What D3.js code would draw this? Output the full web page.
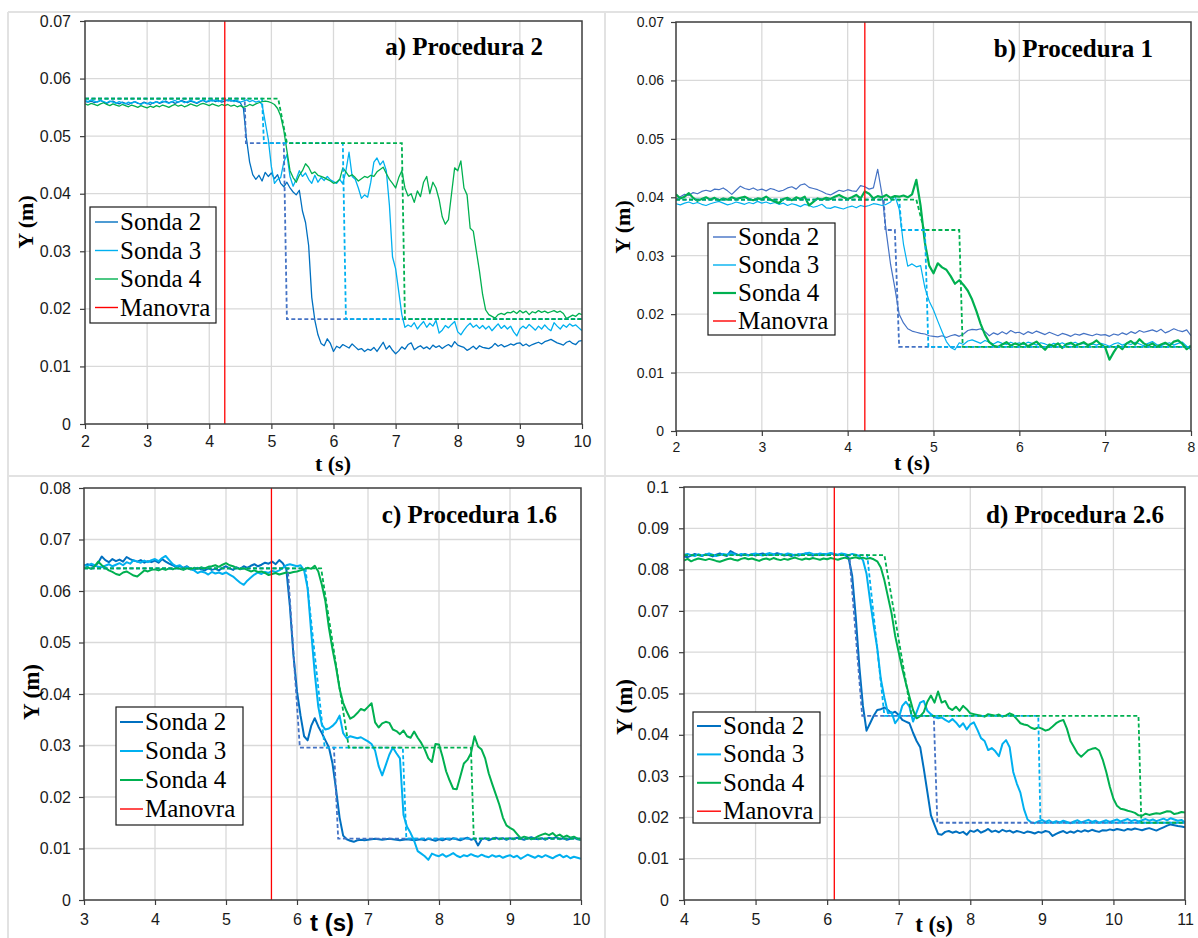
<!DOCTYPE html>
<html>
<head>
<meta charset="utf-8">
<script src="https://cdn.jsdelivr.net/npm/d3@7"></script>
<style>
  body { margin: 0; background: #fff; }
  svg { display: block; }
</style>
</head>
<body>
<svg id="fig" width="1198" height="938"></svg>
<script>
// ---------------- data ----------------
// Probe records are sampled every 0.05 s from each panel's start time.
const sampleStep = 0.05;
const seriesNames = ['Sonda 2', 'Sonda 3', 'Sonda 4', 'Manovra'];

// a) Procedura 2
const a_title = 'a) Procedura 2';
const a_start = 2;
const a_xTicks = [2, 3, 4, 5, 6, 7, 8, 9, 10];
const a_yTicks = [0, 0.01, 0.02, 0.03, 0.04, 0.05, 0.06, 0.07];
const a_manovra = 4.25;
const a_sonda2 = [
  0.0560,0.0559,0.0561,0.0558,0.0560,0.0562,0.0559,0.0557,0.0560,0.0561,
  0.0558,0.0556,0.0559,0.0557,0.0555,0.0558,0.0560,0.0557,0.0556,0.0559,
  0.0557,0.0555,0.0558,0.0560,0.0557,0.0559,0.0561,0.0558,0.0560,0.0557,
  0.0559,0.0562,0.0560,0.0558,0.0561,0.0559,0.0557,0.0560,0.0562,0.0559,
  0.0561,0.0563,0.0560,0.0562,0.0559,0.0561,0.0563,0.0561,0.0562,0.0560,
  0.0558,0.0548,0.0495,0.0455,0.0433,0.0425,0.0432,0.0422,0.0437,0.0430,
  0.0436,0.0426,0.0433,0.0418,0.0412,0.0420,0.0410,0.0403,0.0398,0.0406,
  0.0370,0.0350,0.0310,0.0220,0.0180,0.0155,0.0140,0.0136,0.0148,0.0140,
  0.0126,0.0135,0.0132,0.0138,0.0135,0.0132,0.0139,0.0134,0.0129,0.0131,
  0.0126,0.0130,0.0128,0.0133,0.0126,0.0134,0.0142,0.0130,0.0136,0.0128,
  0.0122,0.0127,0.0134,0.0130,0.0138,0.0141,0.0129,0.0133,0.0136,0.0131,
  0.0134,0.0130,0.0137,0.0133,0.0136,0.0131,0.0135,0.0138,0.0134,0.0143,
  0.0137,0.0135,0.0133,0.0128,0.0131,0.0135,0.0130,0.0136,0.0133,0.0132,
  0.0131,0.0134,0.0140,0.0135,0.0138,0.0134,0.0136,0.0139,0.0137,0.0140,
  0.0141,0.0136,0.0139,0.0135,0.0138,0.0140,0.0142,0.0139,0.0143,0.0145,
  0.0147,0.0144,0.0141,0.0139,0.0137,0.0142,0.0144,0.0140,0.0138,0.0144,
  0.0145];
const a_sonda3 = [
  0.0562,0.0560,0.0563,0.0561,0.0559,0.0562,0.0560,0.0558,0.0561,0.0559,
  0.0557,0.0560,0.0558,0.0556,0.0559,0.0557,0.0560,0.0558,0.0555,0.0558,
  0.0556,0.0559,0.0557,0.0560,0.0558,0.0561,0.0559,0.0557,0.0560,0.0562,
  0.0559,0.0561,0.0558,0.0560,0.0562,0.0560,0.0558,0.0561,0.0563,0.0560,
  0.0562,0.0561,0.0563,0.0560,0.0562,0.0564,0.0561,0.0563,0.0560,0.0562,
  0.0559,0.0561,0.0563,0.0560,0.0562,0.0559,0.0561,0.0555,0.0525,0.0495,
  0.0447,0.0418,0.0425,0.0428,0.0455,0.0468,0.0430,0.0413,0.0425,0.0440,
  0.0430,0.0436,0.0425,0.0418,0.0432,0.0420,0.0428,0.0423,0.0430,0.0424,
  0.0421,0.0418,0.0425,0.0417,0.0440,0.0472,0.0430,0.0425,0.0410,0.0392,
  0.0398,0.0394,0.0420,0.0455,0.0462,0.0450,0.0457,0.0440,0.0380,0.0290,
  0.0270,0.0230,0.0190,0.0168,0.0172,0.0169,0.0176,0.0165,0.0172,0.0178,
  0.0168,0.0175,0.0170,0.0180,0.0158,0.0163,0.0171,0.0167,0.0173,0.0178,
  0.0160,0.0155,0.0163,0.0170,0.0175,0.0168,0.0172,0.0166,0.0171,0.0165,
  0.0170,0.0162,0.0168,0.0174,0.0166,0.0171,0.0165,0.0170,0.0160,0.0153,
  0.0165,0.0170,0.0166,0.0173,0.0168,0.0163,0.0170,0.0165,0.0172,0.0166,
  0.0162,0.0176,0.0170,0.0165,0.0172,0.0168,0.0174,0.0170,0.0172,0.0167,
  0.0162];
const a_sonda4 = [
  0.0556,0.0554,0.0557,0.0555,0.0553,0.0556,0.0558,0.0555,0.0553,0.0556,
  0.0554,0.0552,0.0555,0.0553,0.0551,0.0554,0.0552,0.0550,0.0553,0.0551,
  0.0549,0.0552,0.0550,0.0553,0.0551,0.0554,0.0552,0.0550,0.0553,0.0555,
  0.0552,0.0554,0.0551,0.0553,0.0556,0.0554,0.0552,0.0555,0.0557,0.0555,
  0.0553,0.0556,0.0554,0.0552,0.0555,0.0553,0.0555,0.0552,0.0554,0.0551,
  0.0553,0.0550,0.0552,0.0555,0.0553,0.0556,0.0558,0.0560,0.0561,0.0560,
  0.0558,0.0555,0.0548,0.0535,0.0510,0.0475,0.0440,0.0428,0.0420,0.0432,
  0.0440,0.0452,0.0446,0.0435,0.0438,0.0432,0.0430,0.0428,0.0425,0.0422,
  0.0418,0.0420,0.0425,0.0445,0.0438,0.0430,0.0433,0.0428,0.0422,0.0426,
  0.0430,0.0428,0.0432,0.0430,0.0438,0.0442,0.0446,0.0435,0.0425,0.0418,
  0.0410,0.0428,0.0440,0.0410,0.0396,0.0400,0.0385,0.0405,0.0395,0.0420,
  0.0430,0.0400,0.0420,0.0410,0.0390,0.0360,0.0347,0.0355,0.0400,0.0445,
  0.0440,0.0457,0.0410,0.0398,0.0340,0.0335,0.0300,0.0265,0.0225,0.0198,
  0.0190,0.0187,0.0184,0.0190,0.0192,0.0190,0.0194,0.0193,0.0196,0.0192,
  0.0197,0.0193,0.0196,0.0190,0.0195,0.0193,0.0197,0.0194,0.0196,0.0193,
  0.0195,0.0197,0.0194,0.0196,0.0192,0.0183,0.0186,0.0189,0.0187,0.0192,
  0.0190];
// idealised step profiles [t, Y]
const a_step2 = [[2, 0.0565], [4.57, 0.0565], [4.59, 0.0488], [5.20, 0.0488], [5.25, 0.0182], [10, 0.0182]];
const a_step3 = [[2, 0.0565], [4.85, 0.0565], [4.88, 0.0488], [6.15, 0.0488], [6.20, 0.0182], [10, 0.0182]];
const a_step4 = [[2, 0.0565], [5.11, 0.0565], [5.25, 0.0488], [7.10, 0.0488], [7.15, 0.0182], [10, 0.0182]];

// b) Procedura 1
const b_title = 'b) Procedura 1';
const b_start = 2;
const b_xTicks = [2, 3, 4, 5, 6, 7, 8];
const b_yTicks = [0, 0.01, 0.02, 0.03, 0.04, 0.05, 0.06, 0.07];
const b_manovra = 4.2;
const b_sonda2 = [
  0.0396,0.0401,0.0405,0.0403,0.0408,0.0406,0.0410,0.0412,0.0410,0.0414,
  0.0413,0.0416,0.0411,0.0405,0.0412,0.0419,0.0415,0.0413,0.0416,0.0412,
  0.0414,0.0411,0.0415,0.0413,0.0410,0.0412,0.0416,0.0418,0.0414,0.0421,
  0.0423,0.0417,0.0415,0.0413,0.0410,0.0406,0.0404,0.0408,0.0412,0.0410,
  0.0413,0.0411,0.0410,0.0420,0.0418,0.0414,0.0416,0.0448,0.0405,0.0340,
  0.0285,0.0245,0.0200,0.0185,0.0175,0.0171,0.0169,0.0167,0.0166,0.0163,
  0.0162,0.0161,0.0163,0.0160,0.0163,0.0165,0.0162,0.0166,0.0172,0.0174,
  0.0173,0.0175,0.0170,0.0163,0.0168,0.0165,0.0170,0.0166,0.0172,0.0168,
  0.0169,0.0165,0.0170,0.0167,0.0171,0.0168,0.0165,0.0169,0.0166,0.0163,
  0.0167,0.0165,0.0162,0.0166,0.0164,0.0167,0.0165,0.0163,0.0166,0.0164,
  0.0165,0.0162,0.0166,0.0164,0.0168,0.0165,0.0170,0.0167,0.0172,0.0169,
  0.0171,0.0173,0.0170,0.0174,0.0168,0.0171,0.0175,0.0172,0.0170,0.0173,
  0.0163];
const b_sonda3 = [
  0.0389,0.0387,0.0390,0.0392,0.0389,0.0391,0.0388,0.0386,0.0389,0.0391,
  0.0393,0.0390,0.0387,0.0389,0.0392,0.0390,0.0388,0.0391,0.0389,0.0393,
  0.0390,0.0392,0.0389,0.0391,0.0388,0.0390,0.0386,0.0389,0.0387,0.0384,
  0.0388,0.0386,0.0383,0.0385,0.0388,0.0382,0.0381,0.0384,0.0382,0.0380,
  0.0383,0.0385,0.0382,0.0386,0.0384,0.0386,0.0389,0.0388,0.0386,0.0388,
  0.0392,0.0403,0.0380,0.0320,0.0282,0.0286,0.0281,0.0283,0.0245,0.0222,
  0.0207,0.0188,0.0170,0.0153,0.0143,0.0139,0.0151,0.0148,0.0154,0.0156,
  0.0153,0.0150,0.0155,0.0152,0.0149,0.0153,0.0150,0.0148,0.0152,0.0149,
  0.0151,0.0148,0.0152,0.0150,0.0147,0.0151,0.0149,0.0146,0.0150,0.0148,
  0.0151,0.0147,0.0149,0.0152,0.0148,0.0150,0.0146,0.0149,0.0147,0.0150,
  0.0148,0.0145,0.0149,0.0151,0.0147,0.0150,0.0148,0.0152,0.0149,0.0146,
  0.0150,0.0153,0.0148,0.0146,0.0149,0.0151,0.0147,0.0150,0.0152,0.0145,
  0.0139];
const b_sonda4 = [
  0.0405,0.0398,0.0401,0.0407,0.0399,0.0394,0.0397,0.0400,0.0396,0.0399,
  0.0395,0.0398,0.0396,0.0400,0.0397,0.0399,0.0401,0.0397,0.0395,0.0398,
  0.0397,0.0401,0.0396,0.0393,0.0390,0.0397,0.0399,0.0395,0.0400,0.0397,
  0.0401,0.0386,0.0392,0.0398,0.0396,0.0399,0.0397,0.0401,0.0404,0.0400,
  0.0397,0.0400,0.0404,0.0398,0.0410,0.0406,0.0398,0.0402,0.0400,0.0404,
  0.0399,0.0402,0.0401,0.0403,0.0400,0.0405,0.0430,0.0385,0.0322,0.0283,
  0.0270,0.0287,0.0280,0.0276,0.0265,0.0252,0.0258,0.0250,0.0240,0.0225,
  0.0205,0.0183,0.0165,0.0152,0.0146,0.0144,0.0148,0.0152,0.0146,0.0150,
  0.0147,0.0151,0.0145,0.0149,0.0153,0.0146,0.0139,0.0148,0.0145,0.0150,
  0.0142,0.0149,0.0151,0.0146,0.0149,0.0152,0.0147,0.0150,0.0155,0.0148,
  0.0143,0.0122,0.0135,0.0146,0.0140,0.0150,0.0154,0.0148,0.0157,0.0150,
  0.0146,0.0150,0.0144,0.0148,0.0151,0.0146,0.0153,0.0155,0.0149,0.0140,
  0.0146];
const b_step2 = [[2, 0.0396], [4.42, 0.0396], [4.44, 0.0344], [4.55, 0.0344], [4.60, 0.0144], [8, 0.0144]];
const b_step3 = [[2, 0.0396], [4.60, 0.0396], [4.63, 0.0344], [4.90, 0.0344], [4.94, 0.0144], [8, 0.0144]];
const b_step4 = [[2, 0.0396], [4.80, 0.0396], [4.89, 0.0344], [5.30, 0.0344], [5.34, 0.0144], [8, 0.0144]];

// c) Procedura 1.6
const c_title = 'c) Procedura 1.6';
const c_start = 3;
const c_xTicks = [3, 4, 5, 6, 7, 8, 9, 10];
const c_yTicks = [0, 0.01, 0.02, 0.03, 0.04, 0.05, 0.06, 0.07, 0.08];
const c_manovra = 5.64;
const c_sonda2 = [
  0.0649,0.0652,0.0650,0.0648,0.0655,0.0667,0.0660,0.0656,0.0662,0.0658,
  0.0661,0.0657,0.0666,0.0662,0.0659,0.0657,0.0660,0.0655,0.0658,0.0656,
  0.0659,0.0655,0.0662,0.0657,0.0653,0.0650,0.0646,0.0648,0.0645,0.0648,
  0.0643,0.0641,0.0645,0.0642,0.0640,0.0644,0.0641,0.0643,0.0640,0.0645,
  0.0648,0.0644,0.0641,0.0646,0.0643,0.0648,0.0645,0.0649,0.0652,0.0648,
  0.0651,0.0655,0.0653,0.0657,0.0652,0.0660,0.0654,0.0642,0.0570,0.0475,
  0.0405,0.0358,0.0318,0.0310,0.0338,0.0353,0.0337,0.0324,0.0310,0.0296,
  0.0265,0.0215,0.0160,0.0125,0.0118,0.0115,0.0113,0.0116,0.0117,0.0116,
  0.0117,0.0118,0.0119,0.0118,0.0117,0.0118,0.0119,0.0118,0.0117,0.0116,
  0.0117,0.0118,0.0117,0.0116,0.0117,0.0118,0.0116,0.0119,0.0117,0.0115,
  0.0118,0.0116,0.0119,0.0117,0.0120,0.0118,0.0116,0.0119,0.0121,0.0117,
  0.0119,0.0106,0.0118,0.0120,0.0116,0.0119,0.0121,0.0118,0.0120,0.0117,
  0.0120,0.0118,0.0121,0.0119,0.0117,0.0120,0.0122,0.0119,0.0118,0.0120,
  0.0117,0.0121,0.0119,0.0122,0.0118,0.0120,0.0117,0.0119,0.0121,0.0118,
  0.0117];
const c_sonda3 = [
  0.0651,0.0648,0.0653,0.0650,0.0647,0.0646,0.0649,0.0652,0.0648,0.0651,
  0.0654,0.0650,0.0656,0.0653,0.0660,0.0657,0.0655,0.0659,0.0656,0.0660,
  0.0662,0.0658,0.0664,0.0668,0.0660,0.0652,0.0648,0.0650,0.0644,0.0647,
  0.0642,0.0640,0.0635,0.0638,0.0636,0.0632,0.0637,0.0634,0.0636,0.0633,
  0.0636,0.0632,0.0628,0.0622,0.0616,0.0612,0.0620,0.0626,0.0632,0.0636,
  0.0633,0.0637,0.0635,0.0639,0.0637,0.0640,0.0645,0.0650,0.0652,0.0650,
  0.0648,0.0650,0.0640,0.0605,0.0520,0.0440,0.0375,0.0340,0.0331,0.0333,
  0.0338,0.0345,0.0358,0.0324,0.0314,0.0318,0.0316,0.0314,0.0316,0.0312,
  0.0308,0.0303,0.0290,0.0260,0.0242,0.0262,0.0282,0.0296,0.0285,0.0275,
  0.0165,0.0142,0.0130,0.0115,0.0095,0.0090,0.0085,0.0078,0.0090,0.0087,
  0.0085,0.0089,0.0084,0.0087,0.0091,0.0086,0.0083,0.0087,0.0085,0.0089,
  0.0086,0.0084,0.0088,0.0085,0.0083,0.0087,0.0084,0.0086,0.0082,0.0085,
  0.0087,0.0083,0.0086,0.0080,0.0084,0.0088,0.0085,0.0082,0.0086,0.0083,
  0.0087,0.0084,0.0081,0.0085,0.0088,0.0083,0.0086,0.0081,0.0084,0.0082,
  0.0080];
const c_sonda4 = [
  0.0644,0.0646,0.0643,0.0648,0.0657,0.0650,0.0645,0.0640,0.0637,0.0633,
  0.0631,0.0636,0.0638,0.0634,0.0630,0.0628,0.0634,0.0640,0.0638,0.0641,
  0.0642,0.0640,0.0643,0.0641,0.0644,0.0642,0.0645,0.0643,0.0641,0.0644,
  0.0642,0.0645,0.0643,0.0646,0.0644,0.0647,0.0648,0.0650,0.0647,0.0651,
  0.0654,0.0650,0.0648,0.0645,0.0642,0.0644,0.0641,0.0638,0.0640,0.0637,
  0.0638,0.0635,0.0631,0.0633,0.0635,0.0632,0.0634,0.0636,0.0635,0.0637,
  0.0638,0.0640,0.0642,0.0645,0.0643,0.0649,0.0638,0.0612,0.0580,0.0528,
  0.0487,0.0452,0.0410,0.0383,0.0366,0.0352,0.0356,0.0363,0.0371,0.0368,
  0.0375,0.0382,0.0345,0.0335,0.0343,0.0346,0.0344,0.0331,0.0328,0.0322,
  0.0329,0.0318,0.0315,0.0327,0.0315,0.0305,0.0292,0.0275,0.0268,0.0303,
  0.0302,0.0278,0.0250,0.0232,0.0216,0.0215,0.0240,0.0265,0.0272,0.0285,
  0.0318,0.0298,0.0292,0.0275,0.0246,0.0225,0.0205,0.0185,0.0160,0.0145,
  0.0140,0.0136,0.0128,0.0120,0.0123,0.0121,0.0118,0.0120,0.0124,0.0127,
  0.0129,0.0126,0.0130,0.0124,0.0127,0.0122,0.0125,0.0121,0.0123,0.0119,
  0.0117];
const c_step2 = [[3, 0.0644], [5.87, 0.0644], [6.04, 0.0296], [6.52, 0.0296], [6.58, 0.0119], [10, 0.0119]];
const c_step3 = [[3, 0.0644], [6.12, 0.0644], [6.39, 0.0296], [7.49, 0.0296], [7.54, 0.0119], [10, 0.0119]];
const c_step4 = [[3, 0.0644], [6.34, 0.0644], [6.73, 0.0296], [8.45, 0.0296], [8.49, 0.0119], [10, 0.0119]];

// d) Procedura 2.6
const d_title = 'd) Procedura 2.6';
const d_start = 4;
const d_xTicks = [4, 5, 6, 7, 8, 9, 10, 11];
const d_yTicks = [0, 0.01, 0.02, 0.03, 0.04, 0.05, 0.06, 0.07, 0.08, 0.09, 0.1];
const d_manovra = 6.1;
const d_sonda2 = [
  0.0832,0.0830,0.0834,0.0838,0.0835,0.0833,0.0837,0.0835,0.0832,0.0836,
  0.0839,0.0835,0.0833,0.0845,0.0840,0.0836,0.0834,0.0838,0.0835,0.0837,
  0.0834,0.0837,0.0839,0.0835,0.0838,0.0836,0.0840,0.0837,0.0834,0.0836,
  0.0833,0.0836,0.0834,0.0837,0.0839,0.0836,0.0834,0.0837,0.0835,0.0838,
  0.0836,0.0839,0.0837,0.0835,0.0838,0.0836,0.0828,0.0785,0.0685,0.0565,
  0.0470,0.0410,0.0428,0.0446,0.0460,0.0462,0.0466,0.0460,0.0452,0.0456,
  0.0448,0.0436,0.0432,0.0428,0.0405,0.0385,0.0370,0.0318,0.0262,0.0205,
  0.0182,0.0160,0.0158,0.0165,0.0167,0.0163,0.0166,0.0162,0.0165,0.0158,
  0.0168,0.0165,0.0170,0.0163,0.0167,0.0172,0.0165,0.0168,0.0164,0.0170,
  0.0166,0.0168,0.0163,0.0167,0.0165,0.0162,0.0166,0.0164,0.0161,0.0165,
  0.0163,0.0167,0.0165,0.0155,0.0160,0.0164,0.0167,0.0162,0.0166,0.0163,
  0.0168,0.0165,0.0169,0.0166,0.0170,0.0167,0.0165,0.0169,0.0168,0.0171,
  0.0169,0.0172,0.0170,0.0168,0.0172,0.0170,0.0173,0.0171,0.0169,0.0172,
  0.0174,0.0171,0.0168,0.0172,0.0176,0.0180,0.0183,0.0181,0.0179,0.0178,
  0.0176];
const d_sonda3 = [
  0.0836,0.0838,0.0835,0.0833,0.0837,0.0834,0.0836,0.0839,0.0836,0.0833,
  0.0835,0.0838,0.0836,0.0840,0.0837,0.0835,0.0838,0.0836,0.0834,0.0837,
  0.0839,0.0836,0.0834,0.0838,0.0840,0.0837,0.0835,0.0838,0.0836,0.0839,
  0.0837,0.0834,0.0838,0.0836,0.0839,0.0841,0.0838,0.0836,0.0839,0.0837,
  0.0838,0.0840,0.0838,0.0836,0.0839,0.0837,0.0835,0.0838,0.0836,0.0833,
  0.0823,0.0790,0.0725,0.0665,0.0610,0.0535,0.0490,0.0452,0.0455,0.0428,
  0.0440,0.0470,0.0480,0.0468,0.0432,0.0455,0.0478,0.0482,0.0458,0.0450,
  0.0443,0.0440,0.0442,0.0436,0.0431,0.0438,0.0430,0.0419,0.0428,0.0413,
  0.0425,0.0430,0.0412,0.0392,0.0385,0.0363,0.0368,0.0360,0.0348,0.0378,
  0.0387,0.0370,0.0310,0.0282,0.0260,0.0220,0.0195,0.0188,0.0186,0.0190,
  0.0194,0.0189,0.0193,0.0187,0.0191,0.0188,0.0192,0.0189,0.0186,0.0190,
  0.0193,0.0188,0.0191,0.0194,0.0189,0.0192,0.0187,0.0190,0.0193,0.0189,
  0.0192,0.0195,0.0190,0.0193,0.0196,0.0191,0.0194,0.0190,0.0193,0.0196,
  0.0192,0.0195,0.0191,0.0194,0.0197,0.0193,0.0198,0.0195,0.0192,0.0194,
  0.0188];
const d_sonda4 = [
  0.0822,0.0826,0.0820,0.0824,0.0827,0.0825,0.0823,0.0826,0.0824,0.0821,
  0.0819,0.0822,0.0825,0.0827,0.0824,0.0822,0.0826,0.0828,0.0825,0.0827,
  0.0824,0.0821,0.0825,0.0827,0.0824,0.0828,0.0825,0.0823,0.0826,0.0824,
  0.0827,0.0829,0.0826,0.0824,0.0827,0.0825,0.0828,0.0826,0.0824,0.0827,
  0.0825,0.0828,0.0826,0.0824,0.0827,0.0829,0.0826,0.0828,0.0830,0.0827,
  0.0829,0.0826,0.0828,0.0825,0.0820,0.0805,0.0774,0.0734,0.0694,0.0640,
  0.0600,0.0560,0.0525,0.0492,0.0460,0.0440,0.0445,0.0455,0.0480,0.0495,
  0.0478,0.0505,0.0478,0.0482,0.0465,0.0460,0.0468,0.0458,0.0470,0.0462,
  0.0452,0.0450,0.0448,0.0446,0.0444,0.0450,0.0448,0.0446,0.0449,0.0444,
  0.0447,0.0452,0.0448,0.0438,0.0428,0.0425,0.0423,0.0417,0.0414,0.0418,
  0.0415,0.0410,0.0413,0.0420,0.0428,0.0433,0.0436,0.0415,0.0385,0.0370,
  0.0355,0.0347,0.0355,0.0363,0.0366,0.0368,0.0362,0.0340,0.0310,0.0274,
  0.0245,0.0228,0.0221,0.0219,0.0216,0.0214,0.0211,0.0205,0.0204,0.0209,
  0.0206,0.0208,0.0210,0.0209,0.0212,0.0215,0.0214,0.0208,0.0210,0.0213,
  0.0212];
const d_step2 = [[4, 0.0835], [6.31, 0.0835], [6.49, 0.0446], [7.49, 0.0446], [7.54, 0.0187], [11, 0.0187]];
const d_step3 = [[4, 0.0835], [6.56, 0.0835], [6.80, 0.0446], [8.95, 0.0446], [8.98, 0.0187], [11, 0.0187]];
const d_step4 = [[4, 0.0835], [6.80, 0.0835], [7.18, 0.0446], [10.35, 0.0446], [10.39, 0.0187], [11, 0.0187]];

// ---------------- styling ----------------
const BLUE = '#0070C0', BLUE_SOFT = '#4472C4', CYAN = '#00B0F0', GREEN = '#00B050', RED = '#FF0000';
const GRID = '#d9d9d9', FRAME = '#3c3c3c', CELL = '#e2e2e2';
const SANS = '"Liberation Sans", Arial, sans-serif';
const SERIF = '"Liberation Serif", "Times New Roman", serif';

const panels = [
  { key: 'a', start: a_start, series: [a_sonda2, a_sonda3, a_sonda4], steps: [a_step2, a_step3, a_step4],
    manovra: a_manovra, xTicks: a_xTicks, yTicks: a_yTicks, title: a_title,
    plot: { left: 85, right: 582, top: 21, bottom: 424 },
    colors: [BLUE, CYAN, GREEN], widths: [1.3, 1.3, 1.3], tickFont: 16, yPad: 9, xPad: 7,
    titleAt: [543, 55],
    legend: { x: 90, y: 207, w: 126, h: 116, base: 230, gap: 28.5, line: [95, 118], text: 120 },
    yLabel: [25, 222, 22], xLabel: [333, 471, 22, SERIF] },
  { key: 'b', start: b_start, series: [b_sonda2, b_sonda3, b_sonda4], steps: [b_step2, b_step3, b_step4],
    manovra: b_manovra, xTicks: b_xTicks, yTicks: b_yTicks, title: b_title,
    plot: { left: 676, right: 1191, top: 22, bottom: 431 },
    colors: [BLUE_SOFT, CYAN, GREEN], widths: [1.2, 1.2, 2.2], tickFont: 14, yPad: 7, xPad: 6,
    titleAt: [1153, 57],
    legend: { x: 708, y: 223, w: 127, h: 112, base: 245, gap: 28, line: [713, 736], text: 738 },
    yLabel: [622, 227, 22], xLabel: [912, 470, 22, SERIF] },
  { key: 'c', start: c_start, series: [c_sonda2, c_sonda3, c_sonda4], steps: [c_step2, c_step3, c_step4],
    manovra: c_manovra, xTicks: c_xTicks, yTicks: c_yTicks, title: c_title,
    plot: { left: 84, right: 581, top: 488, bottom: 900 },
    colors: [BLUE, CYAN, GREEN], widths: [2, 2, 2], tickFont: 16, yPad: 8, xPad: 9,
    titleAt: [557, 523],
    legend: { x: 116, y: 707, w: 127, h: 118, base: 730, gap: 29, line: [120, 143], text: 145 },
    yLabel: [31, 692, 23], xLabel: [332, 931, 24, SANS] },
  { key: 'd', start: d_start, series: [d_sonda2, d_sonda3, d_sonda4], steps: [d_step2, d_step3, d_step4],
    manovra: d_manovra, xTicks: d_xTicks, yTicks: d_yTicks, title: d_title,
    plot: { left: 684, right: 1185, top: 487, bottom: 900 },
    colors: [BLUE, CYAN, GREEN], widths: [2, 2, 2], tickFont: 16, yPad: 10, xPad: 9,
    titleAt: [1164, 523],
    legend: { x: 693, y: 712, w: 127, h: 111, base: 734, gap: 28.4, line: [697, 721], text: 723 },
    yLabel: [624, 707, 23], xLabel: [934, 932, 23, SERIF] }
];

const svg = d3.select('#fig');

// light cell rules around the four charts
const rules = svg.append('g').attr('stroke', CELL).attr('stroke-width', 2);
[[8, 12, 1198, 12], [8, 12, 8, 938], [605, 12, 605, 938], [8, 476, 1198, 476]].forEach(([x1, y1, x2, y2]) =>
  rules.append('line').attr('x1', x1).attr('y1', y1).attr('x2', x2).attr('y2', y2));

const fmtY = v => v === 0 ? '0' : String(+v.toFixed(2));

function drawPanel(p) {
  const P = p.plot;
  const x = d3.scaleLinear().domain(d3.extent(p.xTicks)).range([P.left, P.right]);
  const y = d3.scaleLinear().domain(d3.extent(p.yTicks)).range([P.bottom, P.top]);
  const g = svg.append('g').attr('class', 'panel-' + p.key);

  const clipId = 'clip-' + p.key;
  svg.append('defs').append('clipPath').attr('id', clipId)
    .append('rect').attr('x', P.left).attr('y', P.top)
    .attr('width', P.right - P.left).attr('height', P.bottom - P.top);

  // gridlines
  const grid = g.append('g').attr('stroke', GRID).attr('stroke-width', 1.3);
  grid.selectAll('.gx').data(p.xTicks.slice(1, -1)).join('line')
    .attr('x1', d => x(d)).attr('x2', d => x(d)).attr('y1', P.top).attr('y2', P.bottom);
  grid.selectAll('.gy').data(p.yTicks.slice(1, -1)).join('line')
    .attr('y1', d => y(d)).attr('y2', d => y(d)).attr('x1', P.left).attr('x2', P.right);

  // axes
  const yAxis = g.append('g').attr('transform', `translate(${P.left},0)`)
    .call(d3.axisLeft(y).tickValues(p.yTicks).tickFormat(fmtY).tickSize(5).tickPadding(p.yPad));
  const xAxis = g.append('g').attr('transform', `translate(0,${P.bottom})`)
    .call(d3.axisBottom(x).tickValues(p.xTicks).tickFormat(d3.format('d')).tickSize(5).tickPadding(p.xPad));
  [yAxis, xAxis].forEach(ax => {
    ax.select('.domain').remove();
    ax.selectAll('line').attr('stroke', FRAME).attr('stroke-width', 1.2);
    ax.selectAll('text').attr('fill', '#1a1a1a')
      .style('font-family', SANS).style('font-size', p.tickFont + 'px');
  });

  // measured series
  const body = g.append('g').attr('clip-path', `url(#${clipId})`);
  const line = d3.line().x(d => x(d[0])).y(d => y(d[1]));
  p.series.forEach((vals, i) => {
    const pts = vals.map((v, k) => [p.start + k * sampleStep, v]);
    body.append('path').datum(pts).attr('d', line)
      .attr('fill', 'none').attr('stroke', p.colors[i]).attr('stroke-width', p.widths[i])
      .attr('stroke-linejoin', 'round');
  });

  // idealised step profiles
  const dashColors = [BLUE_SOFT, CYAN, GREEN];
  p.steps.forEach((pts, i) => {
    body.append('path').datum(pts).attr('d', line)
      .attr('fill', 'none').attr('stroke', dashColors[i]).attr('stroke-width', 1.8)
      .attr('stroke-dasharray', '4,2.5');
  });

  // manoeuvre instant
  body.append('line')
    .attr('x1', x(p.manovra)).attr('x2', x(p.manovra)).attr('y1', P.top).attr('y2', P.bottom)
    .attr('stroke', RED).attr('stroke-width', 1.3);

  // plot frame
  g.append('rect').attr('x', P.left).attr('y', P.top)
    .attr('width', P.right - P.left).attr('height', P.bottom - P.top)
    .attr('fill', 'none').attr('stroke', FRAME).attr('stroke-width', 1.5);

  // panel title
  g.append('text').attr('x', p.titleAt[0]).attr('y', p.titleAt[1])
    .attr('text-anchor', 'end').attr('fill', '#000')
    .style('font-family', SERIF).style('font-weight', 'bold').style('font-size', '25px')
    .text(p.title);

  // axis titles
  g.append('text')
    .attr('transform', `translate(${p.yLabel[0]},${p.yLabel[1]}) rotate(-90)`)
    .attr('text-anchor', 'middle').attr('dominant-baseline', 'central').attr('fill', '#000')
    .style('font-family', SERIF).style('font-weight', 'bold').style('font-size', p.yLabel[2] + 'px')
    .text('Y (m)');
  g.append('text').attr('x', p.xLabel[0]).attr('y', p.xLabel[1])
    .attr('text-anchor', 'middle').attr('fill', '#000')
    .style('font-family', p.xLabel[3]).style('font-weight', 'bold').style('font-size', p.xLabel[2] + 'px')
    .text('t (s)');

  // legend
  const L = p.legend;
  const lg = g.append('g');
  lg.append('rect').attr('x', L.x).attr('y', L.y).attr('width', L.w).attr('height', L.h)
    .attr('fill', '#fff').attr('stroke', '#1a1a1a').attr('stroke-width', 1.2);
  const legendColors = [p.colors[0], p.colors[1], p.colors[2], RED];
  const legendWidths = [p.widths[0], p.widths[1], p.widths[2], 1.3];
  seriesNames.forEach((name, i) => {
    const by = L.base + i * L.gap;
    lg.append('line').attr('x1', L.line[0]).attr('x2', L.line[1]).attr('y1', by - 8).attr('y2', by - 8)
      .attr('stroke', legendColors[i]).attr('stroke-width', Math.max(legendWidths[i], 1.4));
    lg.append('text').attr('x', L.text).attr('y', by).attr('fill', '#000')
      .style('font-family', SERIF).style('font-size', '25px').text(name);
  });
}

panels.forEach(drawPanel);
</script>
</body>
</html>
